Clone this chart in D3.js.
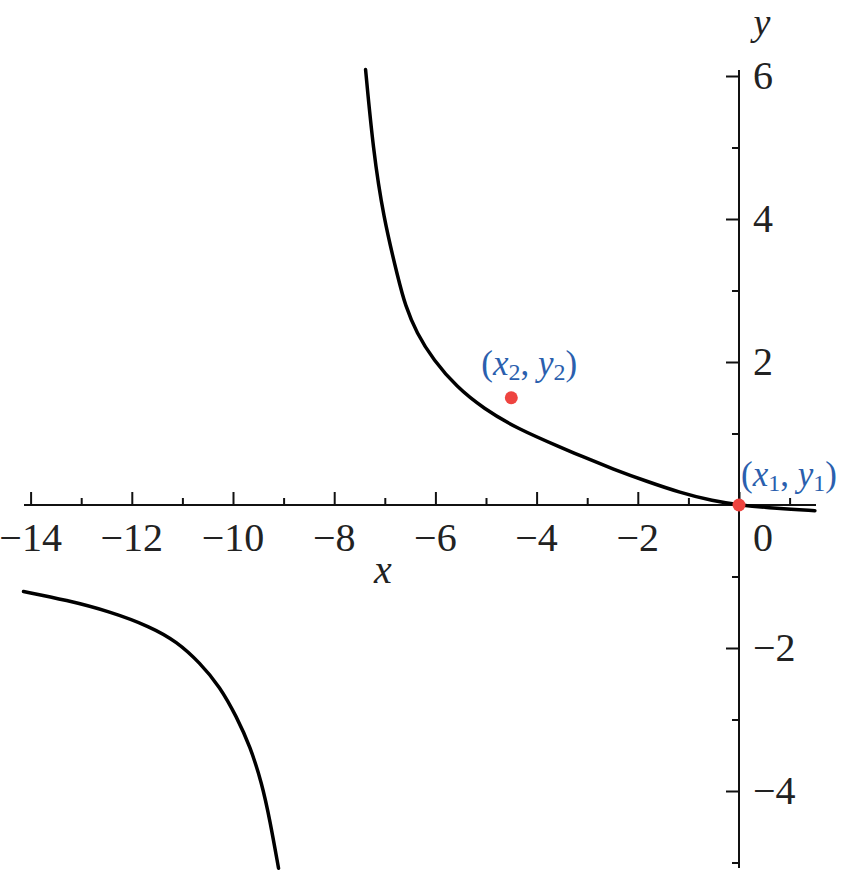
<!DOCTYPE html>
<html>
<head>
<meta charset="utf-8">
<script src="https://cdn.jsdelivr.net/npm/d3@7"></script>
<style>
  body { margin: 0; background: #fff; }
</style>
</head>
<body>
<div id="chart"></div>
<script>
// curve points
const upperBranch = [
  [-7.38, 6.09], [-7.23, 4.97], [-7.03, 4.03], [-6.73, 3.15], [-6.60, 2.80],
  [-6.37, 2.40], [-6.04, 2.03], [-5.58, 1.65], [-5.05, 1.35], [-4.39, 1.07],
  [-3.47, 0.79], [-3.14, 0.69], [-2.48, 0.50], [-1.82, 0.33], [-1.17, 0.175],
  [-0.51, 0.055], [0, 0], [0.75, -0.05], [1.50, -0.08]
];
const lowerBranch = [
  [-14.14, -1.21], [-13.29, -1.33], [-12.43, -1.49], [-11.64, -1.70],
  [-11.11, -1.91], [-10.65, -2.21], [-10.26, -2.54], [-9.93, -2.96],
  [-9.66, -3.38], [-9.43, -3.89], [-9.27, -4.41], [-9.10, -5.08]
];
const points = [
  { x: 0, y: 0, label: ['x', '1', 'y', '1'] },
  { x: -4.5, y: 1.5, label: ['x', '2', 'y', '2'] }
];
const xMajor = [-14, -12, -10, -8, -6, -4, -2, 0];
const xMinor = [-13, -11, -9, -7, -5, -3, -1, 1];
const yMajor = [-4, -2, 2, 4, 6];
const yMinor = [-5, -3, -1, 1, 3, 5];

const width = 843, height = 871;
const serif = '"Liberation Serif"';

const svg = d3.select('#chart').append('svg')
    .attr('width', width)
    .attr('height', height)
    .attr('font-family', serif);

const x = d3.scaleLinear().domain([-14, 0]).range([30.6, 739]);
const y = d3.scaleLinear().domain([0, 6]).range([505, 76]);

// axis lines
svg.append('line')
    .attr('x1', 24).attr('x2', 816)
    .attr('y1', y(0)).attr('y2', y(0))
    .attr('stroke', '#111').attr('stroke-width', 2);
svg.append('line')
    .attr('x1', x(0)).attr('x2', x(0))
    .attr('y1', 70).attr('y2', 868)
    .attr('stroke', '#111').attr('stroke-width', 2);

// ticks, drawn with d3 axes (labels placed by hand below)
function tickAxis(axis, values, size, transform) {
  const g = svg.append('g')
      .attr('transform', transform)
      .call(axis.tickValues(values).tickSize(size).tickFormat(''));
  g.select('.domain').remove();
  g.selectAll('.tick line').attr('stroke', '#111').attr('stroke-width', 2);
}
tickAxis(d3.axisTop(x), xMajor, 13, `translate(0,${y(0)})`);
tickAxis(d3.axisTop(x), xMinor, 7, `translate(0,${y(0)})`);
tickAxis(d3.axisLeft(y), yMajor, 13, `translate(${x(0)},0)`);
tickAxis(d3.axisLeft(y), yMinor, 7, `translate(${x(0)},0)`);

const fmt = d => d < 0 ? '\u2212' + Math.abs(d) : String(d);

// x tick labels
svg.append('g').selectAll('text')
  .data(xMajor)
  .enter().append('text')
    .attr('x', d => d === 0 ? x(0) + 14 : x(d))
    .attr('y', 551)
    .attr('text-anchor', d => d === 0 ? 'start' : 'middle')
    .attr('font-family', serif)
    .attr('font-size', 40)
    .attr('fill', '#222')
    .text(fmt);

// y tick labels
svg.append('g').selectAll('text')
  .data(yMajor)
  .enter().append('text')
    .attr('x', x(0) + 14)
    .attr('y', d => y(d) + 13)
    .attr('font-family', serif)
    .attr('font-size', 40)
    .attr('fill', '#222')
    .text(fmt);

// axis titles
svg.append('text')
    .attr('x', 383).attr('y', 583)
    .attr('text-anchor', 'middle')
    .attr('font-family', serif)
    .attr('font-size', 40)
    .attr('font-style', 'italic')
    .attr('fill', '#222')
    .text('x');
svg.append('text')
    .attr('x', 762).attr('y', 35)
    .attr('text-anchor', 'middle')
    .attr('font-family', serif)
    .attr('font-size', 38)
    .attr('font-style', 'italic')
    .attr('fill', '#222')
    .text('y');

// curve
const line = d3.line()
    .x(d => x(d[0]))
    .y(d => y(d[1]))
    .curve(d3.curveBasis);

[upperBranch, lowerBranch].forEach(branch => {
  svg.append('path')
      .datum(branch)
      .attr('d', line)
      .attr('fill', 'none')
      .attr('stroke', '#000')
      .attr('stroke-width', 3.5)
      .attr('stroke-linecap', 'round');
});

// points
svg.append('g').selectAll('circle')
  .data(points)
  .enter().append('circle')
    .attr('cx', d => x(d.x))
    .attr('cy', d => y(d.y))
    .attr('r', 6.5)
    .attr('fill', '#ee4440');

// point labels
const labelPos = [
  { dx: 2, dy: -19, anchor: 'start' },
  { dx: 18, dy: -23, anchor: 'middle' }
];
const blue = '#2b5fae';
points.forEach((p, i) => {
  const pos = labelPos[i];
  const t = svg.append('text')
      .attr('x', x(p.x) + pos.dx)
      .attr('y', y(p.y) + pos.dy)
      .attr('text-anchor', pos.anchor)
      .attr('font-family', serif)
      .attr('font-size', 35)
      .attr('fill', blue);
  t.append('tspan').text('(');
  t.append('tspan').attr('font-style', 'italic').text(p.label[0]);
  t.append('tspan').attr('dy', 5).attr('font-size', 24).text(p.label[1]);
  t.append('tspan').attr('dy', -5).text(', ');
  t.append('tspan').attr('font-style', 'italic').text(p.label[2]);
  t.append('tspan').attr('dy', 5).attr('font-size', 24).text(p.label[3]);
  t.append('tspan').attr('dy', -5).text(')');
  t.selectAll('tspan').attr('fill', blue);
});
</script>
</body>
</html>
